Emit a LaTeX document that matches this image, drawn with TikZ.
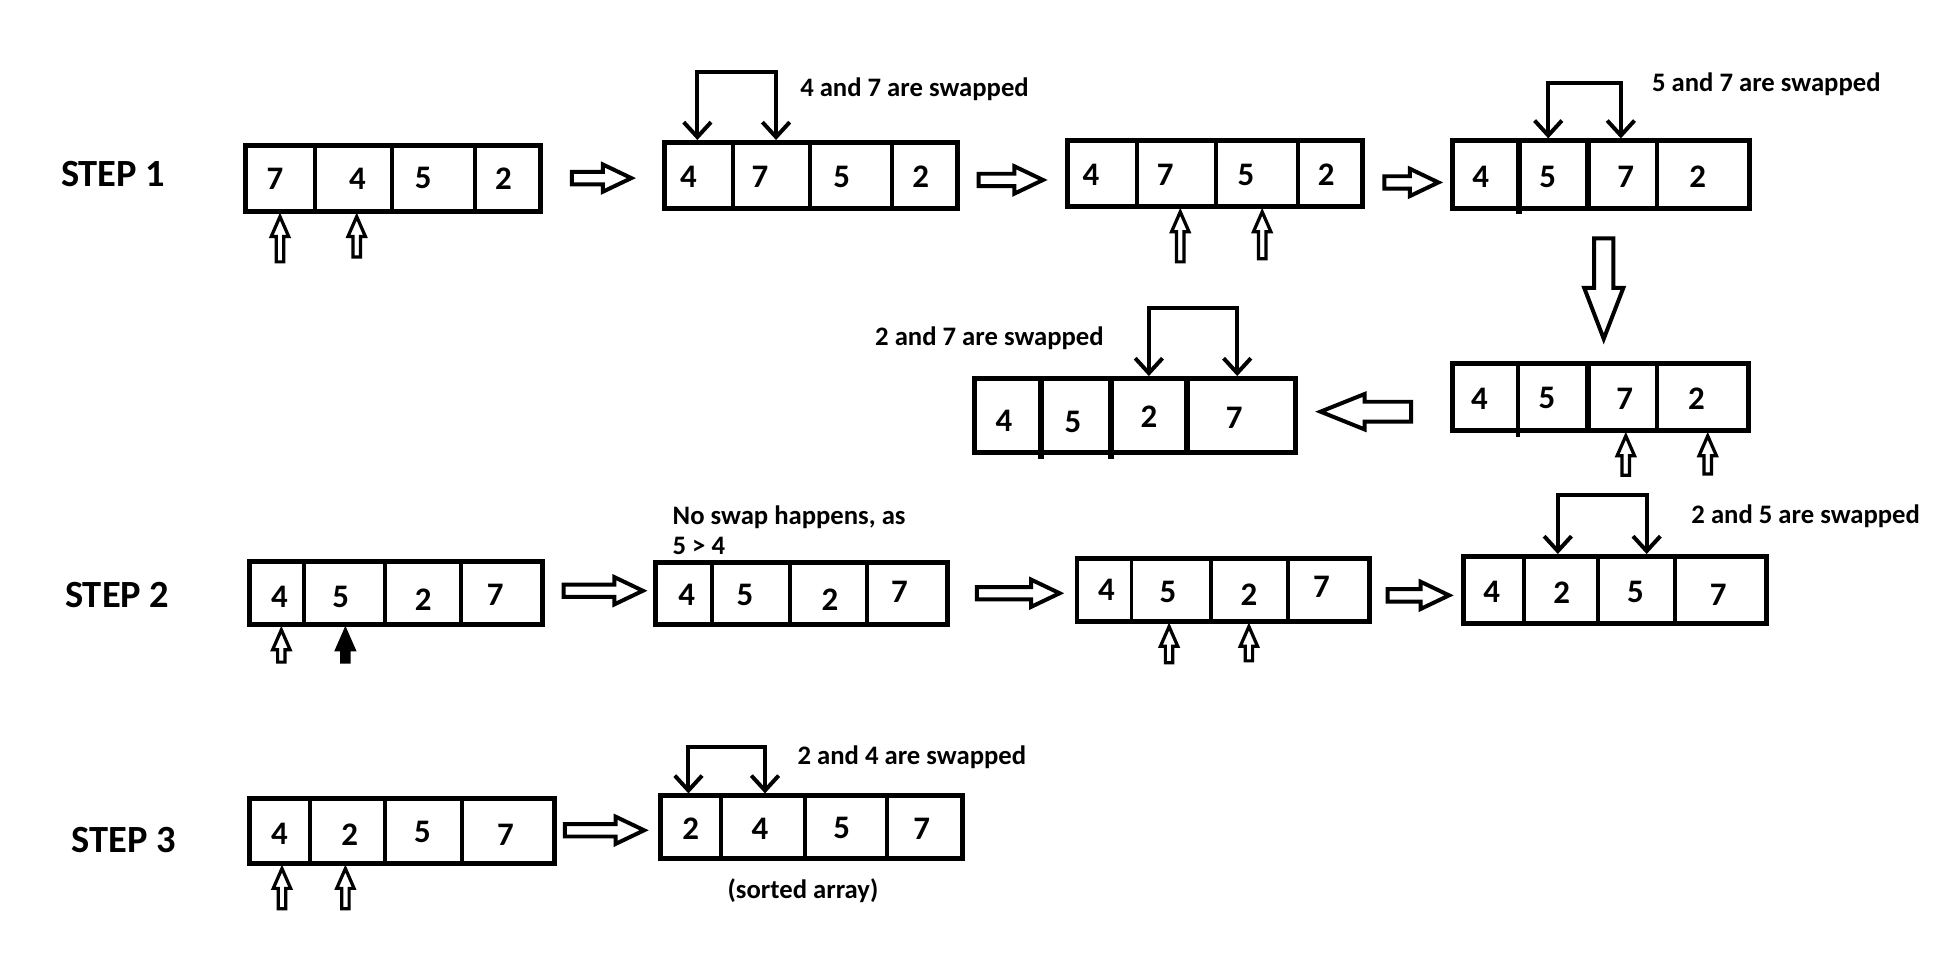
\documentclass[tikz,border=0pt]{standalone}
\usepackage{fontspec}
\setmainfont{Carlito}
\usetikzlibrary{arrows.meta}
\tikzset{
 arr/.style={draw, line width=4pt, inner sep=0pt, outer sep=0pt, anchor=north west},
 div/.style={line width=3.2pt},
 tdiv/.style={line width=5pt},
 num/.style={font=\bfseries\fontsize{26.5}{26.5}\selectfont, inner sep=0pt},
 lab/.style={font=\bfseries\fontsize{21.5}{24}\selectfont, inner sep=0pt, anchor=base west},
 steplab/.style={font=\bfseries\fontsize{31}{31}\selectfont, inner sep=0pt},
 swap/.style={line width=3.2pt, {Straight Barb[length=12pt,width=22pt]}-{Straight Barb[length=12pt,width=22pt]}},
 blk/.style={line width=3.2pt, line join=miter, fill=white},
 ptr/.style={line width=2.6pt, line join=miter, fill=white},
}
\newcommand\arrbox[5]{\node[arr, minimum width={#4-#2-4}, minimum height={#5-#3-4}] (#1) at ({#2+2},{#3+2}) {};}
\newcommand\ptrup[4][]{\draw[ptr,#1] (#2,{#3+2}) -- ({#2+7},{#3+18}) -- ({#2+3},{#3+18}) -- ({#2+3},{#4-1}) -- ({#2-3},{#4-1}) -- ({#2-3},{#3+18}) -- ({#2-7},{#3+18}) -- cycle;}
\newcommand\harr[3]{\draw[blk] ({#1+1.5},{#3-5}) -- ({#2-26},{#3-5}) -- ({#2-26},{#3-11}) -- ({#2-3},#3) -- ({#2-26},{#3+11}) -- ({#2-26},{#3+5}) -- ({#1+1.5},{#3+5}) -- cycle;}
\begin{document}
\begin{tikzpicture}[x=1pt,y=-1pt]
\fill[white] (0,0) rectangle (1568,768.7);
\useasboundingbox (0,0) rectangle (1568,768.7);

% step labels
\node[steplab] (s1) at (91.2,140) {STEP 1};
\node[steplab] (s2) at (94.5,479.5) {STEP 2};
\node[steplab] (s3) at (99.7,677) {STEP 3};

% ---------- A1
\arrbox{A1}{196}{115.5}{437.8}{172.5}
\draw[div] (253.8,115.5) -- (253.8,172.5);
\draw[div] (316.1,115.5) -- (316.1,172.5);
\draw[div] (382.8,115.5) -- (382.8,172.5);
\node[num] (A1a) at (221.6,143.7) {7};
\node[num] (A1b) at (288,143.7) {4};
\node[num] (A1c) at (341,143.7) {5};
\node[num] (A1d) at (405.6,143.7) {2};
\ptrup{225.6}{172.5}{212}
\ptrup{287.4}{172.5}{208}
\harr{459.3}{511.7}{143.5}

% ---------- A2
\arrbox{A2}{533.2}{112.8}{773.6}{170}
\draw[div] (590.4,112.8) -- (590.4,170);
\draw[div] (652.7,112.8) -- (652.7,170);
\draw[div] (718.5,112.8) -- (718.5,170);
\node[num] (A2a) at (554.7,142.4) {4};
\node[num] (A2b) at (612.4,142.4) {7};
\node[num] (A2c) at (678.2,142.4) {5};
\node[num] (A2d) at (741.9,142.4) {2};
\draw[swap] (561.9,112.8) -- (561.9,57.7) -- (625.3,57.7) -- (625.3,112.8);
\node[lab] (t1) at (644.6,78) {4 and 7 are swapped};
\harr{787}{843.4}{145}

% ---------- A3
\arrbox{A3}{858}{111.5}{1099.5}{168.7}
\draw[div] (916,111.5) -- (916,168.7);
\draw[div] (979.6,111.5) -- (979.6,168.7);
\draw[div] (1045.7,111.5) -- (1045.7,168.7);
\node[num] (A3a) at (879,141) {4};
\node[num] (A3b) at (938.8,141) {7};
\node[num] (A3c) at (1004,141) {5};
\node[num] (A3d) at (1068.5,141) {2};
\ptrup{951}{168.7}{212}
\ptrup{1017}{168.7}{209.5}
\harr{1114}{1162}{147}

% ---------- A4
\arrbox{A4}{1168}{111.5}{1412}{169.8}
\draw[tdiv] (1224,111.5) -- (1224,172.5);
\draw[tdiv] (1279.5,111.5) -- (1279.5,169.8);
\draw[div] (1335.5,111.5) -- (1335.5,169.8);
\node[num] (A4a) at (1193,142.4) {4};
\node[num] (A4b) at (1247,142.4) {5};
\node[num] (A4c) at (1310,142.4) {7};
\node[num] (A4d) at (1368,142.4) {2};
\draw[swap] (1247.5,111.5) -- (1247.5,67) -- (1306,67) -- (1306,111.5);
\node[lab] (t2) at (1331,74) {5 and 7 are swapped};

% big down arrow
\draw[blk] (1284.5,192) -- (1300,192) -- (1300,232) -- (1308,232) -- (1292.2,273) -- (1276.5,232) -- (1284.5,232) -- cycle;

% ---------- A5
\arrbox{A5}{1168}{291}{1411}{349.2}
\draw[div] (1223,291) -- (1223,352);
\draw[tdiv] (1279.6,291) -- (1279.6,349.2);
\draw[div] (1335,291) -- (1335,349.2);
\node[num] (A5a) at (1192,321) {4};
\node[num] (A5b) at (1246.5,321) {5};
\node[num] (A5c) at (1309,321) {7};
\node[num] (A5d) at (1367,321) {2};
\ptrup{1310}{349.2}{384}
\ptrup{1376}{349.2}{383}

% big left arrow
\draw[blk] (1137,323.7) -- (1099.5,323.7) -- (1099.5,317.5) -- (1064,331.7) -- (1099.5,346) -- (1099.5,339.8) -- (1137,339.8) -- cycle;

% ---------- A6
\arrbox{A6}{783}{303}{1045.7}{366.6}
\draw[tdiv] (838.6,303) -- (838.6,369.5);
\draw[tdiv] (895.4,303) -- (895.4,369.5);
\draw[tdiv] (956.5,303) -- (956.5,366.6);
\node[num] (A6a) at (809,339) {4};
\node[num] (A6b) at (864.6,339.8) {5};
\node[num] (A6c) at (925.7,335.8) {2};
\node[num] (A6d) at (994.4,337) {7};
\draw[swap] (925.7,303) -- (925.7,248.5) -- (996.9,248.5) -- (996.9,303);
\node[lab] (t3) at (705,278) {2 and 7 are swapped};

% ---------- B1
\arrbox{B1}{199}{450.5}{439}{505.5}
\draw[div] (245.3,450.5) -- (245.3,505.5);
\draw[div] (310,450.5) -- (310,505.5);
\draw[div] (371.2,450.5) -- (371.2,505.5);
\node[num] (B1a) at (225.2,480.8) {4};
\node[num] (B1b) at (274.6,480.8) {5};
\node[num] (B1c) at (341,483.5) {2};
\node[num] (B1d) at (399,479) {7};
\ptrup{226.7}{505.5}{534.5}
\ptrup[fill=black]{278.3}{505.5}{534.5}
\harr{452.7}{521}{476}

% ---------- B2
\arrbox{B2}{526.4}{451.2}{765.5}{505}
\draw[div] (573.5,451.2) -- (573.5,505);
\draw[div] (636.6,451.2) -- (636.6,505);
\draw[div] (698.4,451.2) -- (698.4,505);
\node[num] (B2a) at (553.3,479.4) {4};
\node[num] (B2b) at (600.3,479.4) {5};
\node[num] (B2c) at (668.8,483.5) {2};
\node[num] (B2d) at (724.7,476.8) {7};
\node[lab] (t4) at (541.8,422.3) {No swap happens, as};
\node[lab] (t5) at (541.8,446.5) {5 > 4};
\harr{785.7}{856.8}{478}

% ---------- B3
\arrbox{B3}{865.8}{448}{1105.3}{502.8}
\draw[div] (911.7,448) -- (911.7,502.8);
\draw[div] (975.7,448) -- (975.7,502.8);
\draw[div] (1037.8,448) -- (1037.8,502.8);
\node[num] (B3a) at (891.5,475.4) {4};
\node[num] (B3b) at (941,477) {5};
\node[num] (B3c) at (1006.3,479.5) {2};
\node[num] (B3d) at (1064.8,472.8) {7};
\ptrup{942}{502.8}{535}
\ptrup{1006.3}{502.8}{533.5}
\harr{1116.5}{1170.6}{479.7}

% ---------- B4
\arrbox{B4}{1177.3}{446.4}{1425}{504.2}
\draw[div] (1228.2,446.4) -- (1228.2,504.2);
\draw[div] (1287.7,446.4) -- (1287.7,504.2);
\draw[div] (1349.7,446.4) -- (1349.7,504.2);
\node[num] (B4a) at (1202,476.8) {4};
\node[num] (B4b) at (1258.4,477.5) {2};
\node[num] (B4c) at (1317.8,476.8) {5};
\node[num] (B4d) at (1384.4,479.5) {7};
\draw[swap] (1255.2,446.4) -- (1255.2,398.9) -- (1326.8,398.9) -- (1326.8,446.4);
\node[lab] (t6) at (1362.7,422) {2 and 5 are swapped};

% ---------- C1
\arrbox{C1}{199}{641.5}{448.5}{697.8}
\draw[div] (249.9,641.5) -- (249.9,697.8);
\draw[div] (310,641.5) -- (310,697.8);
\draw[div] (371.9,641.5) -- (371.9,697.8);
\node[num] (C1a) at (225.2,671.5) {4};
\node[num] (C1b) at (281.7,672.8) {2};
\node[num] (C1c) at (340.4,670) {5};
\node[num] (C1d) at (407.3,673) {7};
\ptrup{227.2}{697.8}{733.3}
\ptrup{278.3}{697.8}{733.3}
\harr{453.7}{522}{669}

% ---------- C2
\arrbox{C2}{530.5}{639.3}{777.6}{693.5}
\draw[div] (581,639.3) -- (581,693.5);
\draw[div] (648.7,639.3) -- (648.7,693.5);
\draw[div] (715,639.3) -- (715,693.5);
\node[num] (C2a) at (556.5,667.5) {2};
\node[num] (C2b) at (612.4,667.5) {4};
\node[num] (C2c) at (678.2,667.5) {5};
\node[num] (C2d) at (742.7,667.5) {7};
\draw[swap] (554.7,639.3) -- (554.7,601.6) -- (616.4,601.6) -- (616.4,639.3);
\node[lab] (t7) at (642.5,616) {2 and 4 are swapped};
\node[lab, anchor=base] (t8) at (647,724) {(sorted array)};
\end{tikzpicture}
\end{document}
